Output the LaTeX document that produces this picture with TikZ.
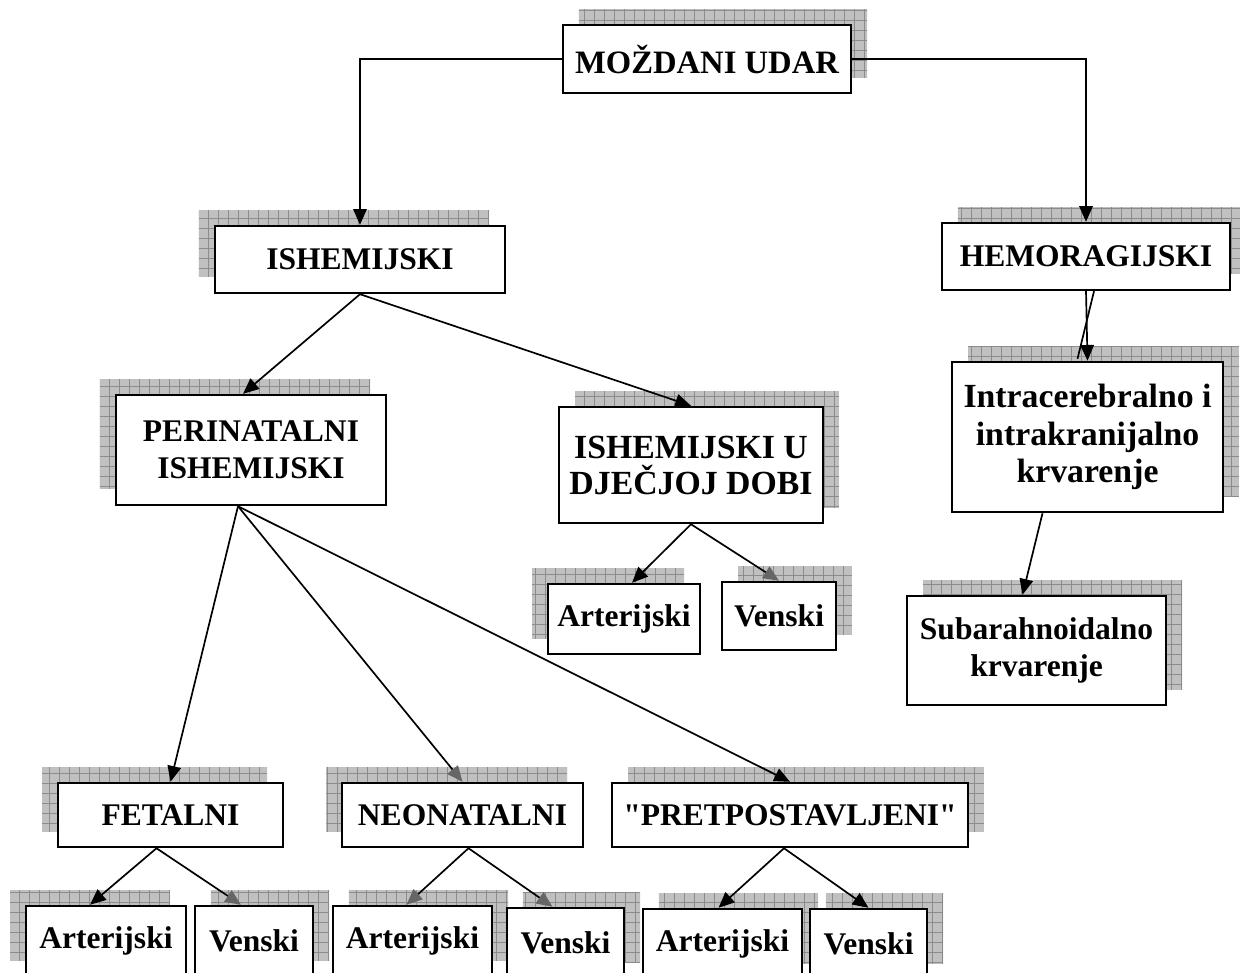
\documentclass[tikz,border=0pt]{standalone}
\usepackage{fontspec}
\setmainfont{Liberation Serif}[Ligatures=TeXOff]
\usepackage{tikz}
\usetikzlibrary{arrows.meta, calc, shadows, patterns}
\definecolor{shadowfill}{RGB}{192, 192, 192}
\definecolor{shadowline}{RGB}{140, 140, 140}

\pgfdeclarepatterninherentlycolored{shadowgrid}
  {\pgfpointorigin}{\pgfqpoint{4.4pt}{4.4pt}}{\pgfqpoint{4.4pt}{4.4pt}}
  {
    \pgfsetfillcolor{shadowfill}
    \pgfpathrectangle{\pgfpointorigin}{\pgfqpoint{4.4pt}{4.4pt}}
    \pgfusepath{fill}
    \pgfsetstrokecolor{shadowline}
    \pgfsetlinewidth{0.4pt}
    \pgfpathmoveto{\pgfqpoint{0pt}{0.2pt}}
    \pgfpathlineto{\pgfqpoint{4.4pt}{0.2pt}}
    \pgfpathmoveto{\pgfqpoint{0.2pt}{0pt}}
    \pgfpathlineto{\pgfqpoint{0.2pt}{4.4pt}}
    \pgfusepath{stroke}
  }

\begin{document}
\begin{tikzpicture}[
    x=0.444pt, y=-0.444pt,
    box/.style={draw=black, line width=1.1pt, fill=white, align=center, inner sep=2pt,
        font=\fontsize{14}{16.5}\selectfont\bfseries},
    shadowul/.style={general shadow={draw=none, shadow xshift=-7.1pt, shadow yshift=7.1pt, pattern=shadowgrid}},
    shadowur/.style={general shadow={draw=none, shadow xshift=7.1pt, shadow yshift=7.1pt, pattern=shadowgrid}},
    arrow/.style={-{Triangle[length=7pt, width=6pt]}, line width=0.75pt, black},
    greyarrow/.style={-{Triangle[length=7pt, width=6pt, color=black!60]}, line width=0.75pt, black}
]
    \useasboundingbox (0,0) rectangle (1240,972);

    % Cvorovi
    \node (udar) [box, shadowur, minimum width=127.9pt, minimum height=30.2pt,
        font=\fontsize{14.5}{17}\selectfont\bfseries] at (707,59) {MOŽDANI UDAR};

    \node (ishem) [box, shadowul, minimum width=128.8pt, minimum height=29.7pt] at (360,259.5) {ISHEMIJSKI};

    \node (hemo) [box, shadowur, minimum width=127.9pt, minimum height=29.7pt] at (1086,256.5) {HEMORAGIJSKI};

    \node (intra) [box, shadowur, minimum width=120.3pt, minimum height=66.6pt,
        font=\fontsize{15}{16.5}\selectfont\bfseries] at (1087.5,437)
        {Intracerebralno i\\ intrakranijalno\\ krvarenje};

    \node (sub) [box, shadowur, minimum width=115pt, minimum height=48.4pt] at (1036.5,650.5)
        {Subarahnoidalno\\ krvarenje};

    \node (perin) [box, shadowul, minimum width=119.9pt, minimum height=48.8pt] at (251,450)
        {PERINATALNI\\ ISHEMIJSKI};

    \node (djecja) [box, shadowur, minimum width=117.2pt, minimum height=51.5pt,
        font=\fontsize{15}{16}\selectfont\bfseries] at (691,465)
        {ISHEMIJSKI U\\ DJEČJOJ DOBI};

    \node (dart) [box, shadowul, minimum width=67.5pt, minimum height=31.1pt] at (624,619) {Arterijski};
    \node (dven) [box, shadowur, minimum width=50.6pt, minimum height=30.2pt] at (779,616) {Venski};

    \node (fetal) [box, shadowul, minimum width=99.9pt, minimum height=28.4pt] at (170.5,815) {FETALNI};
    \node (neo) [box, shadowul, minimum width=107pt, minimum height=28.4pt] at (462.5,815) {NEONATALNI};
    \node (pre) [box, shadowur, minimum width=158pt, minimum height=28.4pt] at (790,815) {"PRETPOSTAVLJENI"};

    \node (fart) [box, shadowul, minimum width=71pt, minimum height=31.1pt] at (106,941) {Arterijski};
    \node (fven) [box, shadowur, minimum width=52.4pt, minimum height=31.1pt] at (254,941) {Venski};
    \node (nart) [box, shadowur, minimum width=70.6pt, minimum height=31.1pt] at (412.5,941) {Arterijski};
    \node (nven) [box, shadowur, minimum width=52pt, minimum height=31.1pt] at (565.5,943) {Venski};
    \node (part) [box, shadowur, minimum width=70.6pt, minimum height=31.1pt] at (722.5,944) {Arterijski};
    \node (pven) [box, shadowur, minimum width=52pt, minimum height=31.1pt] at (868.5,944) {Venski};

    \coordinate (perinsplit) at ($(perin.south)+(-13,0)$);

    % Strelice
    \draw [arrow] (udar.west) -| (ishem.north);
    \draw [arrow] (udar.east) -| (hemo.north);

    \draw [arrow] (hemo.south) -- (intra.north);
    \draw [line width=0.75pt] ($(hemo.south)+(8,0)$) -- ($(intra.north)+(-10,-2)$);
    \draw [arrow] ($(intra.south)+(-45,0)$) -- ($(sub.north)+(-14,0)$);

    \draw [arrow] (ishem.south) -- ($(perin.north)+(-8,0)$);
    \draw [arrow] (ishem.south) -- (djecja.north);

    \draw [arrow] (perinsplit) -- (fetal.north);
    \draw [greyarrow] (perinsplit) -- (neo.north);
    \draw [arrow] (perinsplit) -- (pre.north);

    \draw [arrow] (djecja.south) -- ($(dart.north)+(8,0)$);
    \draw [greyarrow] (djecja.south) -- (dven.north);

    \draw [arrow] ($(fetal.south)+(-14,0)$) -- ($(fart.north)+(-16,0)$);
    \draw [greyarrow] ($(fetal.south)+(-14,0)$) -- ($(fven.north)+(-13,0)$);

    \draw [greyarrow] ($(neo.south)+(6,0)$) -- ($(nart.north)+(-6,0)$);
    \draw [greyarrow] ($(neo.south)+(6,0)$) -- ($(nven.north)+(-13,0)$);

    \draw [arrow] ($(pre.south)+(-6,0)$) -- ($(part.north)+(-4,0)$);
    \draw [arrow] ($(pre.south)+(-6,0)$) -- (pven.north);
\end{tikzpicture}
\end{document}
